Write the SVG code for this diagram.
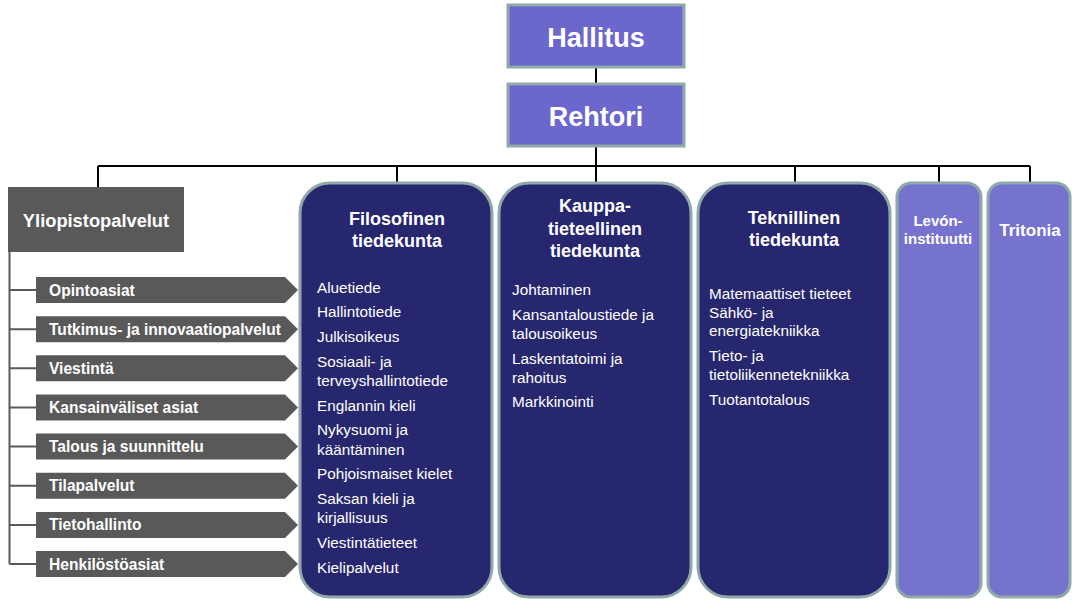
<svg xmlns="http://www.w3.org/2000/svg" width="1072" height="601" viewBox="0 0 1072 601">
<style>
.top{fill:#6B67CC;stroke:#8FA8A8;stroke-width:3}
.fac{fill:#272770;stroke:#8FA8A8;stroke-width:3}
.lib{fill:#7673CF;stroke:#8FA8A8;stroke-width:3}
.gray{fill:#595959}
.conn{stroke:#000;stroke-width:2;fill:none}
.gconn{stroke:#595959;stroke-width:2;fill:none}
text{font-family:"Liberation Sans",Arial,sans-serif;fill:#fff}
.big{font-size:27px;font-weight:bold;text-anchor:middle}
.ttl{font-size:18px;font-weight:bold;text-anchor:middle}
.arr{font-size:15.6px;font-weight:bold}
.it{font-size:15.3px}
</style>
<g id="connectors">
<path class="conn" d="M596 68V83M596 147V166M98 166H1030M98 166V187M397 166V183M596 166V183M795 166V183M939 166V183M1030 166V183"/>
<path class="gconn" d="M9.5 252V564M9.5 290H36M9.5 329.2H36M9.5 368.3H36M9.5 407.5H36M9.5 446.6H36M9.5 485.8H36M9.5 524.9H36M9.5 564H36"/>
</g>
<g id="hallitus"><rect class="top" x="508" y="5" width="176" height="62"/><text class="big" x="596" y="47">Hallitus</text></g>
<g id="rehtori"><rect class="top" x="508" y="84" width="176" height="62"/><text class="big" x="596" y="126">Rehtori</text></g>
<g id="yliopistopalvelut"><rect class="gray" x="8" y="187" width="176" height="65"/><text x="96" y="227" font-size="18.3" font-weight="bold" text-anchor="middle">Yliopistopalvelut</text></g>
<g id="opintoasiat"><polygon class="gray" points="36,277 285,277 298,290 285,303 36,303"/><text class="arr" x="49" y="295.5">Opintoasiat</text></g>
<g id="tutkimus"><polygon class="gray" points="36,316.2 285,316.2 298,329.2 285,342.2 36,342.2"/><text class="arr" x="49" y="334.7">Tutkimus- ja innovaatiopalvelut</text></g>
<g id="viestinta"><polygon class="gray" points="36,355.3 285,355.3 298,368.3 285,381.3 36,381.3"/><text class="arr" x="49" y="373.8">Viestintä</text></g>
<g id="kansainvaliset"><polygon class="gray" points="36,394.5 285,394.5 298,407.5 285,420.5 36,420.5"/><text class="arr" x="49" y="413">Kansainväliset asiat</text></g>
<g id="talous"><polygon class="gray" points="36,433.6 285,433.6 298,446.6 285,459.6 36,459.6"/><text class="arr" x="49" y="452.1">Talous ja suunnittelu</text></g>
<g id="tilapalvelut"><polygon class="gray" points="36,472.8 285,472.8 298,485.8 285,498.8 36,498.8"/><text class="arr" x="49" y="491.3">Tilapalvelut</text></g>
<g id="tietohallinto"><polygon class="gray" points="36,511.9 285,511.9 298,524.9 285,537.9 36,537.9"/><text class="arr" x="49" y="530.4">Tietohallinto</text></g>
<g id="henkilosto"><polygon class="gray" points="36,551 285,551 298,564 285,577 36,577"/><text class="arr" x="49" y="569.5">Henkilöstöasiat</text></g>
<g id="filosofinen">
<rect class="fac" x="300" y="183" width="192" height="414" rx="30"/>
<text class="ttl" x="397" y="225">Filosofinen</text>
<text class="ttl" x="397" y="247">tiedekunta</text>
<text class="it" x="317" y="293">Aluetiede</text>
<text class="it" x="317" y="317">Hallintotiede</text>
<text class="it" x="317" y="342">Julkisoikeus</text>
<text class="it" x="317" y="367">Sosiaali- ja</text>
<text class="it" x="317" y="386">terveyshallintotiede</text>
<text class="it" x="317" y="411">Englannin kieli</text>
<text class="it" x="317" y="435">Nykysuomi ja</text>
<text class="it" x="317" y="455">kääntäminen</text>
<text class="it" x="317" y="479">Pohjoismaiset kielet</text>
<text class="it" x="317" y="504">Saksan kieli ja</text>
<text class="it" x="317" y="523">kirjallisuus</text>
<text class="it" x="317" y="548">Viestintätieteet</text>
<text class="it" x="317" y="573">Kielipalvelut</text>
</g>
<g id="kauppa">
<rect class="fac" x="499" y="183" width="192" height="414" rx="30"/>
<text class="ttl" x="595" y="212">Kauppa-</text>
<text class="ttl" x="595" y="235">tieteellinen</text>
<text class="ttl" x="595" y="257">tiedekunta</text>
<text class="it" x="512" y="295">Johtaminen</text>
<text class="it" x="512" y="320">Kansantaloustiede ja</text>
<text class="it" x="512" y="339">talousoikeus</text>
<text class="it" x="512" y="364">Laskentatoimi ja</text>
<text class="it" x="512" y="383">rahoitus</text>
<text class="it" x="512" y="407">Markkinointi</text>
</g>
<g id="teknillinen">
<rect class="fac" x="698" y="183" width="192" height="414" rx="30"/>
<text class="ttl" x="794" y="224">Teknillinen</text>
<text class="ttl" x="794" y="246">tiedekunta</text>
<text class="it" x="709" y="299">Matemaattiset tieteet</text>
<text class="it" x="709" y="318">Sähkö- ja</text>
<text class="it" x="709" y="336">energiatekniikka</text>
<text class="it" x="709" y="361">Tieto- ja</text>
<text class="it" x="709" y="380">tietoliikennetekniikka</text>
<text class="it" x="709" y="405">Tuotantotalous</text>
</g>
<g id="levon">
<rect class="lib" x="897" y="183" width="84" height="414" rx="14"/>
<text x="938" y="226" font-size="15" font-weight="bold" text-anchor="middle">Levón-</text>
<text x="938" y="244" font-size="15" font-weight="bold" text-anchor="middle">instituutti</text>
</g>
<g id="tritonia">
<rect class="lib" x="988" y="183" width="82" height="414" rx="14"/>
<text x="1030" y="236" font-size="17" font-weight="bold" text-anchor="middle">Tritonia</text>
</g>
</svg>
